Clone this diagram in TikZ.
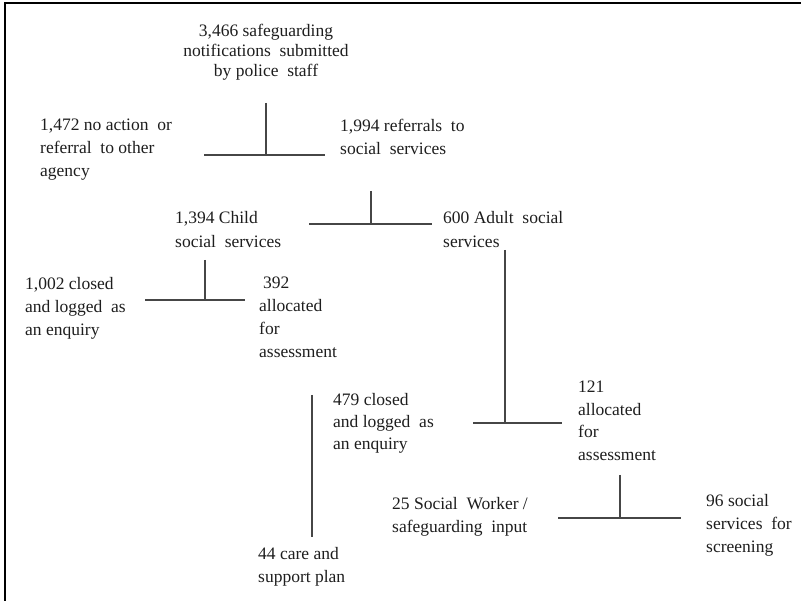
\documentclass[tikz,border=0pt]{standalone}
\usepackage{fontspec}
\setmainfont{Liberation Serif}
\definecolor{txt}{RGB}{30,30,30}
\definecolor{ln}{RGB}{70,70,70}
\tikzset{
  lbl/.style={anchor=north west, inner sep=0pt, align=left, text=txt,
    font=\fontsize{17.5}{23}\selectfont},
  conn/.style={draw=ln, line width=1.3pt},
  frame/.style={draw=black, line width=2.2pt}
}
\begin{document}
\begin{tikzpicture}[x=1pt,y=-1pt]
\useasboundingbox (0,0) rectangle (801,601);
% frame (top and left edges)
\coordinate (fTL) at (5,3);
\coordinate (fTR) at (801,3);
\coordinate (fBL) at (5,601);
\draw[frame] (fBL) -- (fTL) -- (fTR);

% text nodes
\node[anchor=north, inner sep=0pt, align=center, text=txt,
  font=\fontsize{17.5}{20}\selectfont] (top) at (266,24)
  {3,466 safeguarding\\notifications\ \ submitted\\by police\ \ staff};
\node[lbl] (n1472) at (40,119) {1,472 no action\ \ or\\referral\ \ to other\\agency};
\node[lbl] (n1994) at (340,119) {1,994 referrals\ \ to\\social\ \ services};
\node[lbl, font=\fontsize{17.5}{24}\selectfont] (n1394) at (175,211) {1,394 Child\\social\ \ services};
\node[lbl, font=\fontsize{17.5}{24}\selectfont] (n600) at (443,211) {600 Adult\ \ social\\services};
\node[lbl] (n1002) at (25,277) {1,002 closed\\and logged\ \ as\\an enquiry};
\node[lbl] (n392) at (259,277) {\hspace{4pt}392\\allocated\\for\\assessment};
\node[lbl] (n44) at (258,547) {44 care and\\support plan};
\node[lbl, font=\fontsize{17.5}{22}\selectfont] (n479) at (333,393) {479 closed\\and logged\ \ as\\an enquiry};
\node[lbl, font=\fontsize{17.5}{22.5}\selectfont] (n121) at (578,381) {121\\allocated\\for\\assessment};
\node[lbl] (n25) at (392,497) {25 Social\ \ Worker /\\safeguarding\ \ input};
\node[lbl] (n96) at (706,494) {96 social\\services\ \ for\\screening};

% junction coordinates
\coordinate (a1) at (266,103);  \coordinate (j1) at (266,155);
\coordinate (l1) at (204,155);  \coordinate (r1) at (325,155);
\coordinate (a2) at (371,191);  \coordinate (j2) at (371,224);
\coordinate (l2) at (309,224);  \coordinate (r2) at (432,224);
\coordinate (a3) at (205,260);  \coordinate (j3) at (205,300);
\coordinate (l3) at (145,300);  \coordinate (r3) at (245,300);
\coordinate (a4) at (312,395);  \coordinate (b4) at (312,537);
\coordinate (a5) at (505,250);  \coordinate (j5) at (505,423);
\coordinate (l5) at (473,423);  \coordinate (r5) at (562,423);
\coordinate (a6) at (620,475);  \coordinate (j6) at (620,518);
\coordinate (l6) at (558,518);  \coordinate (r6) at (681,518);

% connectors
\draw[conn] (a1) -- (j1);  \draw[conn] (l1) -- (r1);
\draw[conn] (a2) -- (j2);  \draw[conn] (l2) -- (r2);
\draw[conn] (a3) -- (j3);  \draw[conn] (l3) -- (r3);
\draw[conn] (a4) -- (b4);
\draw[conn] (a5) -- (j5);  \draw[conn] (l5) -- (r5);
\draw[conn] (a6) -- (j6);  \draw[conn] (l6) -- (r6);
\end{tikzpicture}
\end{document}
